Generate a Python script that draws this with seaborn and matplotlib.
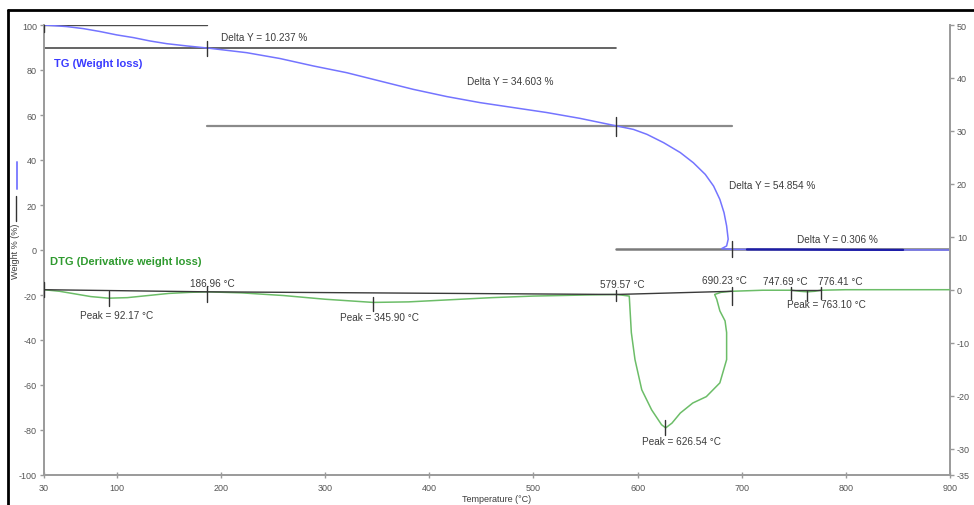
import matplotlib
matplotlib.use("Agg")
import matplotlib.pyplot as plt
from matplotlib.lines import Line2D
import seaborn as sns
import pandas as pd

# TG curve: temperature (°C) and weight (%)
tg_temp = [30, 51.8, 67.7, 83.8, 99.8, 115.8, 131.8, 147.8, 167, 186.96,
           224.6, 256.6, 288.6, 320.7, 352.6, 384.6, 416.7, 448.7, 480.7, 512.7,
           544.7, 579.57, 596, 609, 625, 641, 653.5, 665, 673, 679, 683, 685.5,
           687, 685.5, 680.7, 690.23, 705, 750, 800, 855, 900]
tg_weight = [100, 99.3, 98.4, 97.1, 95.6, 94.4, 92.9, 91.7, 90.7, 89.76,
             87.7, 85.1, 81.8, 78.8, 75.1, 71.4, 68.2, 65.5, 63.3, 61.1,
             58.5, 55.16, 53.6, 51.4, 47.7, 43.3, 38.8, 33.6, 28.4, 22.5, 16.6, 10.7,
             4.8, 1.8, 0.6, 0.306, 0.25, 0.2, 0.1, 0.05, 0.0]

# DTG curve: temperature (°C) and derivative weight (%/°C, right axis)
dtg_temp = [30, 45, 60, 75, 92, 110, 130, 150, 170, 187, 220, 260, 300, 346, 380,
            420, 460, 500, 550, 580, 592, 594, 597.5, 604, 613.5, 623, 627, 633,
            641, 653, 666, 679, 685.5, 685.5, 684, 679, 676, 674, 680, 690, 720,
            748, 756, 763, 770, 776, 800, 850, 900]
dtg_value = [0.0, -0.3, -0.8, -1.3, -1.6, -1.5, -1.1, -0.7, -0.5, -0.4, -0.6, -1.1,
             -1.8, -2.4, -2.3, -1.9, -1.5, -1.2, -1.0, -0.9, -1.2, -8.1, -13.2, -18.9,
             -22.7, -25.5, -26.1, -25.2, -23.3, -21.4, -20.2, -17.6, -13.2, -8.1,
             -5.9, -4.0, -1.8, -0.9, -0.5, -0.3, -0.1, -0.1, -0.3, -0.4, -0.3, -0.1,
             0.0, 0.0, 0.0]

# Step analysis on TG: start/end temperatures, levels, and delta labels
step_start = [30, 186.96, 579.57, 690.23]
step_end = [186.96, 579.57, 690.23, 900]
step_level = [100, 89.763, 55.16, 0.306]
delta_labels = ["Delta Y = 10.237 %", "Delta Y = 34.603 %",
                "Delta Y = 54.854 %", "Delta Y = 0.306 %"]
delta_pos = [(200, 94.8), (436, 75.1), (688, 28.8), (753, 5.1)]

# DTG events: temperature, label, label position (x, y on right axis)
peak_temps = [92.17, 345.90, 626.54, 763.10]
peak_labels = ["Peak = 92.17 °C", "Peak = 345.90 °C",
               "Peak = 626.54 °C", "Peak = 763.10 °C"]
peak_label_pos = [(64.6, -4.7), (314, -5.2), (604, -28.5), (743, -2.75)]
peak_tick = [(-0.3, -3.1), (-1.4, -4.0), (-24.6, -27.4), (-0.2, -2.1)]

limit_temps = [186.96, 579.57, 690.23, 747.69, 776.41]
limit_labels = ["186.96 °C", "579.57 °C", "690.23 °C", "747.69 °C", "776.41 °C"]
limit_label_pos = [(170, 1.2), (564, 1.0), (661.5, 1.8), (720, 1.7), (773, 1.7)]
limit_tick = [(0.7, -2.4), (0.0, -2.2), (0.5, -2.8), (0.5, -1.8), (0.5, -1.8)]

# DTG baselines between integration limits
base_x = [(30, 186.96), (186.96, 579.57), (579.57, 690.23), (747.69, 776.41)]
base_y = [(0.0, -0.4), (-0.4, -0.9), (-0.9, -0.3), (-0.1, -0.1)]

x_ticks = [30, 100, 200, 300, 400, 500, 600, 700, 800, 900]
left_ticks = [100, 80, 60, 40, 20, 0, -20, -40, -60, -80, -100]
right_ticks = [50, 40, 30, 20, 10, 0, -10, -20, -30, -35]

sns.set_theme(style="white")
plt.rcParams["font.family"] = ["Liberation Sans", "DejaVu Sans"]

W, H = 974, 506
fig = plt.figure(figsize=(W / 100, H / 100), dpi=100)
ax = fig.add_axes([44 / W, (H - 476) / H, (950 - 44) / W, 450 / H])
ax2 = ax.twinx()

spine_c = "#9a9a9a"
text_c = "#3c3c3c"
tick_c = "#555555"

ax.set_xlim(30, 900)
ax.set_ylim(-100, 100)
ax2.set_ylim(-35, 50)

for a in (ax, ax2):
    for s in a.spines.values():
        s.set_color(spine_c)
        s.set_linewidth(1.4)
    a.spines["top"].set_visible(False)
ax.spines["right"].set_visible(False)
ax2.spines["left"].set_visible(False)
ax2.spines["bottom"].set_visible(False)

ax.set_xticks(x_ticks)
ax.set_xticklabels([str(t) for t in x_ticks])
ax.set_yticks(left_ticks)
ax.set_yticklabels([str(t) for t in left_ticks])
ax2.set_yticks(right_ticks)
ax2.set_yticklabels([str(t) for t in right_ticks])
ax.tick_params(axis="x", direction="inout", length=4, width=1, color=spine_c,
               labelsize=6.5, labelcolor=tick_c, pad=4, bottom=True)
ax.tick_params(axis="y", direction="out", length=3, width=1, color=spine_c,
               labelsize=6.5, labelcolor=tick_c, pad=2, left=True)
ax2.tick_params(axis="y", direction="out", length=3, width=1, color=spine_c,
                labelsize=6.5, labelcolor=tick_c, pad=2, right=True)
ax.grid(False)
ax2.grid(False)

# TG step levels and markers
line_c = ["#4a4a4a", "#4a4a4a", "#8a8a8a", "#7a7a7a"]
line_w = [1.0, 1.2, 1.6, 1.8]
for (x0, x1), lvl, c, lw in zip([(30, 186.96), (30, 579.57), (186.96, 690.23), (579.57, 900)],
                                step_level, line_c, line_w):
    ax.plot([x0, x1], [lvl, lvl], color=c, lw=lw, zorder=2)
for xm, (y0, y1) in zip(step_start, [(100, 97), (93, 86.2), (59, 50.7), (4, -3.3)]):
    ax.plot([xm, xm], [y0, y1], color="#333333", lw=1.0, zorder=4)

tg_df = pd.DataFrame({"Temperature": tg_temp, "Weight": tg_weight})
sns.lineplot(data=tg_df, x="Temperature", y="Weight", sort=False, estimator=None,
             color="#7474ff", lw=1.1, ax=ax, zorder=3)
tail = tg_df[(tg_df["Temperature"] >= 705) & (tg_df["Temperature"] <= 855)]
sns.lineplot(data=tail, x="Temperature", y="Weight", sort=False, estimator=None,
             color="#1c1ca8", lw=1.6, ax=ax, zorder=3)

for txt, (tx, ty) in zip(delta_labels, delta_pos):
    ax.text(tx, ty, txt, fontsize=7.2, color=text_c, va="center", ha="left")

ax.text(39.6, 83.3, "TG (Weight loss)", fontsize=8, fontweight="bold",
        color="#3a3aff", va="center", ha="left")
ax2.text(36, 5.5, "DTG (Derivative weight loss)", fontsize=8, fontweight="bold",
         color="#2f9a2f", va="center", ha="left")

# DTG curve, baselines and event markers
dtg_df = pd.DataFrame({"Temperature": dtg_temp, "DTG": dtg_value})
sns.lineplot(data=dtg_df, x="Temperature", y="DTG", sort=False, estimator=None,
             color="#6cbd68", lw=1.1, ax=ax2, zorder=3)
for (x0, x1), (y0, y1) in zip(base_x, base_y):
    ax2.plot([x0, x1], [y0, y1], color="#3a3a3a", lw=1.0, zorder=4)
ax2.plot([30, 30], [1.4, -1.3], color="#333333", lw=1.0, zorder=4)
for xm, (y0, y1) in zip(peak_temps, peak_tick):
    ax2.plot([xm, xm], [y0, y1], color="#333333", lw=1.0, zorder=4)
for xm, (y0, y1) in zip(limit_temps, limit_tick):
    ax2.plot([xm, xm], [y0, y1], color="#333333", lw=1.0, zorder=4)
for txt, (tx, ty) in zip(peak_labels, peak_label_pos):
    ax2.text(tx, ty, txt, fontsize=7.2, color=text_c, va="center", ha="left")
for txt, (tx, ty) in zip(limit_labels, limit_label_pos):
    ax2.text(tx, ty, txt, fontsize=7.2, color=text_c, va="center", ha="left")

ax.set_xlabel("Temperature (°C)", fontsize=6.5, color=text_c, labelpad=1)
ax.set_ylabel("")
ax2.set_ylabel("")

# Y-axis title with series swatches
fig.text(15 / W, 1 - 251 / H, "Weight % (%)", rotation=90, fontsize=6.5,
         color=text_c, va="center", ha="center")
fig.add_artist(Line2D([16 / W, 16 / W], [1 - 222 / H, 1 - 197 / H],
                      color="#333333", lw=1.0))
fig.add_artist(Line2D([17 / W, 17 / W], [1 - 190 / H, 1 - 163 / H],
                      color="#8080ff", lw=1.4))

# Outer frame
fig.add_artist(Line2D([8 / W, 1.0], [1 - 11 / H, 1 - 11 / H], color="black", lw=2))
fig.add_artist(Line2D([8 / W, 8 / W], [0, 1 - 11 / H], color="black", lw=2))

fig.savefig("out.png", dpi=100)
